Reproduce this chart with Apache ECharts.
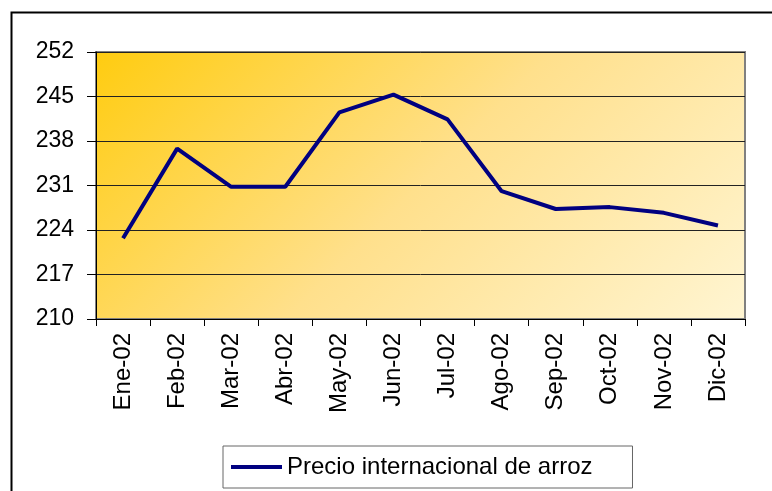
<!DOCTYPE html>
<html>
<head>
<meta charset="utf-8">
<script src="https://cdn.jsdelivr.net/npm/echarts@6/dist/echarts.min.js"></script>
<style>
  html, body { margin: 0; padding: 0; background: #fff; }
  #chart { width: 772px; height: 491px; }
</style>
</head>
<body>
<div id="chart"></div>
<script>
// datos del grafico
var meses = ['Ene-02', 'Feb-02', 'Mar-02', 'Abr-02', 'May-02', 'Jun-02',
             'Jul-02', 'Ago-02', 'Sep-02', 'Oct-02', 'Nov-02', 'Dic-02'];
var precioArroz = [222.7, 236.8, 230.8, 230.8, 242.5, 245.3,
                   241.4, 230.1, 227.3, 227.6, 226.7, 224.7];
var serieNombre = 'Precio internacional de arroz';
var yMin = 210, yMax = 252, yPaso = 7;

var myChart = echarts.init(document.getElementById('chart'));

var option = {
    animation: false,
    textStyle: { fontFamily: 'Liberation Sans, Arial, sans-serif' },
    grid: {
        left: 96, top: 52, right: 27, bottom: 172,
        show: true,
        borderColor: '#808080',
        borderWidth: 2,
        // degradado diagonal (45 grados) en pixeles
        backgroundColor: {
            type: 'linear', x: 96, y: 52, x2: 554, y2: 510, global: true,
            colorStops: [
                { offset: 0, color: '#ffcc10' },
                { offset: 0.5, color: '#ffe08c' },
                { offset: 1, color: '#fff5d2' }
            ]
        }
    },
    legend: {
        data: [serieNombre],
        left: 223, top: 446,
        padding: [9, 40, 9, 8],
        borderColor: '#666',
        borderWidth: 1,
        icon: 'rect',
        itemWidth: 51,
        itemHeight: 4,
        itemGap: 5,
        textStyle: { fontSize: 24, color: '#000' }
    },
    xAxis: {
        type: 'category',
        data: meses,
        boundaryGap: true,
        axisLine: { lineStyle: { color: '#000', width: 1 } },
        axisTick: { show: true, length: 7, lineStyle: { color: '#000' } },
        axisLabel: { rotate: 90, margin: 14, fontSize: 24, color: '#000' },
        splitLine: { show: false }
    },
    yAxis: {
        type: 'value',
        min: yMin, max: yMax, interval: yPaso,
        axisLine: { show: true, lineStyle: { color: '#000', width: 1 } },
        axisTick: { show: true, length: 9, lineStyle: { color: '#000' } },
        axisLabel: { margin: 22, fontSize: 23, color: '#000' },
        splitLine: { show: true, lineStyle: { color: '#222', width: 1 } }
    },
    graphic: [{
        type: 'rect',
        left: 9, top: 10,
        shape: { width: 800, height: 500 },
        style: { fill: 'none', stroke: '#000', lineWidth: 2 },
        silent: true
    }],
    series: [{
        name: serieNombre,
        type: 'line',
        data: precioArroz,
        symbol: 'none',
        itemStyle: { color: '#000080' },
        lineStyle: { color: '#000080', width: 4 }
    }]
};

myChart.setOption(option);
</script>
</body>
</html>
